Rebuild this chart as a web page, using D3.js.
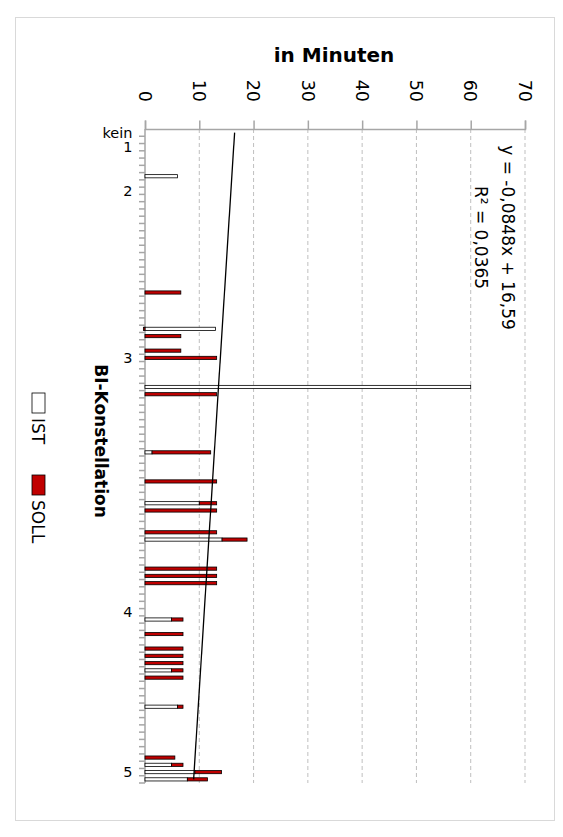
<!DOCTYPE html>
<html>
<head>
<meta charset="utf-8">
<script src="https://cdn.jsdelivr.net/npm/d3@7"></script>
<style>
  html, body { margin: 0; padding: 0; background: #fff; }
  svg { display: block; font-family: "DejaVu Sans", sans-serif; }
</style>
</head>
<body>
<svg id="chart" width="563" height="837"></svg>
<script>
// ---- data ----
const categoryLabels = [
  "kein","","1","","","","","","2","",
  "","","","","","","","","","",
  "","","","","","","","","","",
  "","3","","","","","","","","",
  "","","","","","","","","","",
  "","","","","","","","","","",
  "","","","","","","4","","","",
  "","","","","","","","","","",
  "","","","","","","","","5",""
];
const istValues = [
  0,0,0,0,0,0,6.0,0,0,0,
  0,0,0,0,0,0,0,0,0,0,
  0,0,0,0,0,0,0,13.0,0,0,
  0,0,0,0,0,60,0,0,0,0,
  0,0,0,0,1.3,0,0,0,0,0,
  0,10.0,0,0,0,0,14.2,0,0,0,
  0,0,0,0,0,0,0,4.9,0,0,
  0,0,0,0,4.9,0,0,0,0,6.0,
  0,0,0,0,0,0,0,4.9,9.2,7.8
];
const sollValues = [
  0,0,0,0,0,0,0,0,0,0,
  0,0,0,0,0,0,0,0,0,0,
  0,0,6.6,0,0,0,0,-0.3,6.6,0,
  6.6,13.2,0,0,0,0,13.2,0,0,0,
  0,0,0,0,10.8,0,0,0,13.2,0,
  0,3.2,13.2,0,0,13.2,4.6,0,0,0,
  13.2,13.2,13.2,0,0,0,0,2.1,0,7.0,
  0,7.0,7.0,7.0,2.1,7.0,0,0,0,1.0,
  0,0,0,0,0,0,5.5,2.1,4.9,3.7
];
const valueTicks = [0,10,20,30,40,50,60,70];
const seriesNames = ["IST","SOLL"];
const trendSlope = -0.0848, trendIntercept = 16.59;
const trendLabel = ["y = -0,0848x + 16,59", "R² = 0,0365"];
const valueTitle = "in Minuten";
const legendTitle = "BI-Konstellation";

// ---- layout ----
const svg = d3.select("#chart");
const colRed = "#c00000", axisCol = "#a6a6a6", gridCol = "#bfbfbf";

svg.append("rect").attr("x", 15.5).attr("y", 17.5).attr("width", 539).attr("height", 803)
  .attr("fill", "none").attr("stroke", "#d9d9d9").attr("stroke-width", 1);

const idx = d3.range(categoryLabels.length);
const x = d3.scaleLinear().domain([0, 70]).range([145, 525]);
const y = d3.scaleBand().domain(idx).range([129, 783]).paddingInner(0.56).paddingOuter(0.28);
const step = y.step();

// gridlines
svg.append("g").selectAll("line").data(valueTicks.filter(v => v > 0)).join("line")
  .attr("x1", d => x(d)).attr("x2", d => x(d)).attr("y1", 129).attr("y2", 783)
  .attr("stroke", gridCol).attr("stroke-width", 1).attr("stroke-dasharray", "4,3");

// value axis (top)
const xAxis = d3.axisTop(x).tickValues(valueTicks).tickSize(8.5).tickFormat("");
const gx = svg.append("g").attr("transform", "translate(0,129)").call(xAxis);
gx.select(".domain").attr("stroke", axisCol).attr("stroke-width", 1.5);
gx.selectAll(".tick line").attr("stroke", axisCol).attr("stroke-width", 1.5);

svg.append("g").selectAll("text").data(valueTicks).join("text")
  .attr("transform", d => `translate(${x(d)},102) rotate(90)`)
  .attr("text-anchor", "end").attr("dy", "0.36em")
  .attr("font-size", 17.5).attr("fill", "#000").text(d => d);

svg.append("text").attr("x", 334).attr("y", 61.5).attr("text-anchor", "middle")
  .attr("font-weight", "bold").attr("font-size", 20).text(valueTitle);

// category axis (left)
svg.append("line").attr("x1", 145).attr("x2", 145).attr("y1", 129).attr("y2", 783)
  .attr("stroke", axisCol).attr("stroke-width", 1.5);
svg.append("g").selectAll("line").data(d3.range(1, idx.length + 1)).join("line")
  .attr("x1", 139).attr("x2", 145)
  .attr("y1", k => 129 + k * step).attr("y2", k => 129 + k * step)
  .attr("stroke", axisCol).attr("stroke-width", 1.5);
svg.append("g").selectAll("text").data(idx.filter(i => categoryLabels[i] !== "")).join("text")
  .attr("x", 132.5).attr("y", i => y(i) + y.bandwidth() / 2).attr("dy", "0.36em")
  .attr("text-anchor", "end").attr("font-size", 14.5).text(i => categoryLabels[i]);

// bars
const barG = svg.append("g");
idx.forEach(i => {
  const ist = istValues[i], soll = sollValues[i];
  if (ist > 0) {
    barG.append("rect").attr("x", x(0)).attr("y", y(i)).attr("width", x(ist) - x(0))
      .attr("height", y.bandwidth()).attr("fill", "#fff").attr("stroke", "#000").attr("stroke-width", 0.8);
  }
  if (soll !== 0) {
    const a = soll > 0 ? ist : soll, b = soll > 0 ? ist + soll : 0;
    barG.append("rect").attr("x", x(a)).attr("y", y(i)).attr("width", x(b) - x(a))
      .attr("height", y.bandwidth()).attr("fill", colRed).attr("stroke", "#000").attr("stroke-width", 0.8);
  }
});

// trendline
const n = idx.length;
const trendPts = [1, n].map(k => [x(trendIntercept + trendSlope * k), y(k - 1) + y.bandwidth() / 2]);
svg.append("path").attr("d", d3.line()(trendPts)).attr("stroke", "#000").attr("stroke-width", 1.3).attr("fill", "none");

svg.append("g").selectAll("text").data(trendLabel).join("text")
  .attr("transform", (d, j) => `translate(${502 - j * 27},237.5) rotate(90)`)
  .attr("text-anchor", "middle").attr("font-size", 17).text(d => d);

// legend / category title
svg.append("text").attr("transform", "translate(95,441) rotate(90)")
  .attr("text-anchor", "middle").attr("font-weight", "bold").attr("font-size", 17).text(legendTitle);

const legItems = [
  {name: seriesNames[0], fill: "#fff", y0: 393},
  {name: seriesNames[1], fill: colRed, y0: 475}
];
const lg = svg.append("g");
legItems.forEach(it => {
  lg.append("rect").attr("x", 32).attr("y", it.y0).attr("width", 13).attr("height", 20)
    .attr("fill", it.fill).attr("stroke", "#000").attr("stroke-width", 0.8);
  lg.append("text").attr("transform", `translate(32,${it.y0 + 25}) rotate(90)`)
    .attr("font-size", 17).text(it.name);
});
</script>
</body>
</html>
